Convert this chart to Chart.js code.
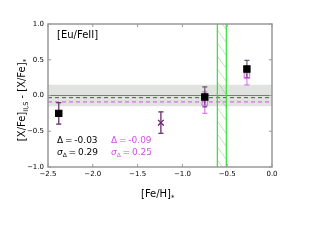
<!DOCTYPE html>
<html><head><meta charset="utf-8">
<script src="https://cdn.jsdelivr.net/npm/chart.js@4/dist/chart.umd.min.js"></script>
<style>html,body{margin:0;padding:0;background:#fff}#w{width:320px;height:240px}</style>
</head><body><div id="w"><canvas id="c" width="320" height="240"></canvas></div>
<script>
// Data
const feH = [-2.38, -1.24, -0.75, -0.28];
const deltaBlack = [-0.25, -0.38, -0.02, 0.37];
const errBlack = [0.15, 0.15, 0.14, 0.12];
const deltaMag = [-0.25, -0.38, -0.10, 0.28];
const errMag = [0.15, 0.15, 0.15, 0.13];
const markerStyle = ['rect', 'crossRot', 'rect', 'rect'];
const xTicks = [-2.5, -2.0, -1.5, -1.0, -0.5, 0.0];
const yTicks = [-1.0, -0.5, 0.0, 0.5, 1.0];
const meanBlack = -0.03, sigmaBlack = 0.29;
const meanMag = -0.09, sigmaMag = 0.25;
const bandRange = [-0.15, 0.15];
const hatchRange = [-0.61, -0.51];
const elementLabel = '[Eu/FeII]';

const MAG = '#d24ee8';
const fmt = v => (v < 0 ? '\u2212' : '') + Math.abs(v).toFixed(1);
const FONT = '"DejaVu Sans", sans-serif';

const deco = {
  id: 'deco',
  beforeDatasetsDraw(chart) {
    const ctx = chart.ctx, xs = chart.scales.x, ys = chart.scales.y, a = chart.chartArea;
    ctx.save();
    ctx.beginPath(); ctx.rect(a.left, a.top, a.right - a.left, a.bottom - a.top); ctx.clip();
    // grey band
    ctx.fillStyle = 'rgba(200,204,196,0.55)';
    const yb1 = ys.getPixelForValue(bandRange[1]), yb0 = ys.getPixelForValue(bandRange[0]);
    ctx.fillRect(a.left, yb1, a.right - a.left, yb0 - yb1);
    // zero line
    ctx.strokeStyle = '#7a7a7a'; ctx.lineWidth = 1.2;
    const y0 = ys.getPixelForValue(0);
    ctx.beginPath(); ctx.moveTo(a.left, y0); ctx.lineTo(a.right, y0); ctx.stroke();
    // dashed means
    ctx.setLineDash([4, 3]); ctx.lineWidth = 1;
    ctx.strokeStyle = '#555';
    let ym = ys.getPixelForValue(meanBlack);
    ctx.beginPath(); ctx.moveTo(a.left, ym); ctx.lineTo(a.right, ym); ctx.stroke();
    ctx.strokeStyle = MAG;
    ym = ys.getPixelForValue(meanMag);
    ctx.beginPath(); ctx.moveTo(a.left, ym); ctx.lineTo(a.right, ym); ctx.stroke();
    ctx.setLineDash([]);
    // hatched green region
    const hx0 = xs.getPixelForValue(hatchRange[0]), hx1 = xs.getPixelForValue(hatchRange[1]);
    ctx.save();
    ctx.beginPath(); ctx.rect(hx0, a.top, hx1 - hx0, a.bottom - a.top); ctx.clip();
    ctx.strokeStyle = 'rgba(90,220,90,0.6)'; ctx.lineWidth = 0.8;
    const w = hx1 - hx0;
    for (let y = a.top - 20; y < a.bottom + 20; y += 13) {
      ctx.beginPath(); ctx.moveTo(hx0, y); ctx.lineTo(hx1, y + w * 1.4); ctx.stroke();
    }
    ctx.restore();
    ctx.strokeStyle = '#33e033'; ctx.lineWidth = 1.2;
    [hx0, hx1].forEach(px => { ctx.beginPath(); ctx.moveTo(px, a.top); ctx.lineTo(px, a.bottom); ctx.stroke(); });
    // error bars
    const eb = (vals, errs, col) => {
      ctx.strokeStyle = col; ctx.lineWidth = 1.2;
      for (let i = 0; i < feH.length; i++) {
        const px = xs.getPixelForValue(feH[i]);
        const t = ys.getPixelForValue(vals[i] + errs[i]), b = ys.getPixelForValue(vals[i] - errs[i]);
        ctx.beginPath(); ctx.moveTo(px, t); ctx.lineTo(px, b);
        ctx.moveTo(px - 2.5, t); ctx.lineTo(px + 2.5, t);
        ctx.moveTo(px - 2.5, b); ctx.lineTo(px + 2.5, b); ctx.stroke();
      }
    };
    eb(deltaMag, errMag, 'rgba(220,110,235,0.9)');
    eb(deltaBlack, errBlack, 'rgba(60,40,60,0.75)');
    ctx.restore();
  },
  afterDraw(chart) {
    const ctx = chart.ctx, xs = chart.scales.x, ys = chart.scales.y, a = chart.chartArea;
    ctx.save();
    // frame
    ctx.strokeStyle = '#999'; ctx.lineWidth = 1.5;
    ctx.strokeRect(a.left, a.top, a.right - a.left, a.bottom - a.top);
    // inside ticks
    ctx.lineWidth = 1;
    xTicks.forEach(v => {
      const px = xs.getPixelForValue(v);
      ctx.beginPath(); ctx.moveTo(px, a.bottom); ctx.lineTo(px, a.bottom - 3);
      ctx.moveTo(px, a.top); ctx.lineTo(px, a.top + 3); ctx.stroke();
    });
    yTicks.forEach(v => {
      const py = ys.getPixelForValue(v);
      ctx.beginPath(); ctx.moveTo(a.left, py); ctx.lineTo(a.left + 3, py);
      ctx.moveTo(a.right, py); ctx.lineTo(a.right - 3, py); ctx.stroke();
    });
    // element label
    ctx.fillStyle = '#000'; ctx.textBaseline = 'alphabetic'; ctx.textAlign = 'left';
    ctx.font = '10px ' + FONT;
    ctx.fillText(elementLabel, 57, 38);
    // stats
    const stat = (x, y, col, mean, sig) => {
      ctx.fillStyle = col;
      ctx.font = '9px ' + FONT;
      ctx.fillText('\u0394\u2009=\u2009' + mean.toFixed(2), x, y);
      ctx.font = 'italic 9px ' + FONT;
      ctx.fillText('\u03c3', x, y + 12);
      let w = ctx.measureText('\u03c3').width;
      ctx.font = '6px ' + FONT;
      ctx.fillText('\u0394', x + w, y + 14);
      w += ctx.measureText('\u0394').width;
      ctx.font = '9px ' + FONT;
      ctx.fillText('\u2009=\u2009' + sig.toFixed(2), x + w, y + 12);
    };
    stat(57, 143, '#000', meanBlack, sigmaBlack);
    stat(111, 143, MAG, meanMag, sigmaMag);
    // x title
    ctx.fillStyle = '#000';
    ctx.font = '10px ' + FONT;
    const xt = '[Fe/H]';
    const xw = ctx.measureText(xt).width;
    const xstart = 158 - (xw + 4) / 2;
    ctx.fillText(xt, xstart, 197);
    ctx.font = '7px ' + FONT;
    ctx.fillText('*', xstart + xw, 200);
    // y title rotated
    ctx.save();
    ctx.translate(25, 100);
    ctx.rotate(-Math.PI / 2);
    const parts = [['[X/Fe]', 10, 0], ['II,S', 6.5, 3], [' - [X/Fe]', 10, 0], ['*', 7, 3]];
    let total = 0;
    parts.forEach(p => { ctx.font = p[1] + 'px ' + FONT; total += ctx.measureText(p[0]).width; });
    let cx = -total / 2;
    parts.forEach(p => {
      ctx.font = p[1] + 'px ' + FONT;
      ctx.fillText(p[0], cx, p[2]);
      cx += ctx.measureText(p[0]).width;
    });
    ctx.restore();
    ctx.restore();
  }
};

new Chart(document.getElementById('c'), {
  type: 'scatter',
  data: {
    datasets: [
      {
        data: feH.map((x, i) => ({x, y: deltaBlack[i]})),
        order: 0,
        pointStyle: markerStyle,
        pointRadius: markerStyle.map(s => s === 'rect' ? 4.4 : 4),
        borderColor: markerStyle.map(s => s === 'rect' ? '#000' : 'rgba(60,20,60,0.75)'),
        backgroundColor: '#000',
        borderWidth: 1.2
      },
      {
        data: feH.map((x, i) => ({x, y: deltaMag[i]})),
        order: 1,
        pointStyle: markerStyle,
        pointRadius: markerStyle.map(s => s === 'rect' ? 3.8 : 4),
        borderColor: 'rgba(215,110,235,0.9)',
        backgroundColor: 'rgba(0,0,0,0)',
        borderWidth: 1.2
      }
    ]
  },
  options: {
    responsive: false,
    animation: false,
    events: [],
    layout: { padding: { top: 24, right: 48, left: 0, bottom: 0 } },
    plugins: { legend: { display: false }, tooltip: { enabled: false } },
    scales: {
      x: {
        type: 'linear', min: -2.5, max: 0,
        afterFit: s => { s.height = 73; },
        afterBuildTicks: s => { s.ticks = xTicks.map(v => ({value: v})); },
        grid: { display: false, drawTicks: false },
        border: { display: false },
        ticks: { callback: v => fmt(v), font: { size: 7, family: FONT }, color: '#000', padding: 3, maxRotation: 0 }
      },
      y: {
        type: 'linear', min: -1, max: 1,
        afterFit: s => { s.width = 48; },
        afterBuildTicks: s => { s.ticks = yTicks.map(v => ({value: v})); },
        grid: { display: false, drawTicks: false },
        border: { display: false },
        ticks: { callback: v => fmt(v), font: { size: 7, family: FONT }, color: '#000', padding: 4 }
      }
    }
  },
  plugins: [deco]
});
</script>
</body></html>
